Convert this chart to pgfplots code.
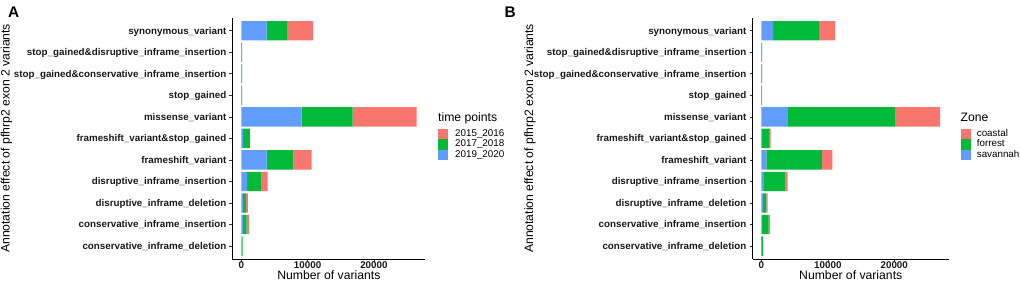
\documentclass[border=0pt]{standalone}
\usepackage{pgfplots}
\pgfplotsset{compat=1.18}
\usepackage{fontspec}
\setmainfont{Liberation Sans}
\definecolor{gred}{HTML}{F8766D}
\definecolor{ggreen}{HTML}{00BA38}
\definecolor{gblue}{HTML}{619CFF}
\pgfplotsset{
  sq legend/.style={legend image code/.code={\fill[##1] (0pt,-5.25pt) rectangle (10pt,5.25pt);}},
  panel/.style={
    scale only axis, height=241.2pt,
    xbar stacked, bar width=0.9,
    ymin=-0.6, ymax=10.6,
    ytick={0,...,10},
    yticklabels={conservative\_inframe\_deletion,conservative\_inframe\_insertion,disruptive\_inframe\_deletion,disruptive\_inframe\_insertion,frameshift\_variant,frameshift\_variant\&stop\_gained,missense\_variant,stop\_gained,stop\_gained\&conservative\_inframe\_insertion,stop\_gained\&disruptive\_inframe\_insertion,synonymous\_variant},
    xtick={0,10000,20000}, xticklabels={0,10000,20000},
    scaled x ticks=false,
    axis x line=bottom, axis y line=left,
    axis line style={-, black, line width=0.7pt},
    tick align=outside, major tick length=3pt,
    tick style={black!80, line width=0.6pt},
    yticklabel style={font=\fontsize{9.8}{10}\selectfont\bfseries, text=black!90, anchor=base east, inner sep=0pt, xshift=-3pt, yshift=-3.3pt},
    xticklabel style={font=\fontsize{9.8}{10}\selectfont\bfseries, text=black!90, anchor=base, inner sep=0pt, yshift=-6.8pt},
    label style={font=\fontsize{12.2}{13}\selectfont},
    xlabel={Number of variants},
    xlabel style={at={(axis description cs:0.5,-0.083)}, anchor=base, inner sep=0pt},
    ylabel={Annotation effect of pfhrp2 exon 2 variants},
    reverse legend, legend cell align=left,
  },
}
\begin{document}
\begin{tikzpicture}
\useasboundingbox (0,0) rectangle (1021pt,283pt);
% Panel A
\begin{axis}[panel, at={(232.5pt,24pt)}, anchor=south west, width=192.8pt,
  xmin=-1321, xmax=27750,
  ylabel style={at={(axis description cs:-1.1566,0.5)}, anchor=base, inner sep=0pt},
  legend style={at={(axis description cs:1.0659,0.540)}, anchor=north west, draw=none, fill=none, inner sep=0pt, row sep=0pt, column sep=7pt, font=\fontsize{9.8}{10.5}\selectfont, nodes={inner sep=0pt, text height=7.3pt, text depth=3.2pt}},
]
\addplot[fill=gblue, draw=none, sq legend] coordinates {
 (60,0) (300,1) (300,2) (900,3) (3820,4) (300,5) (9100,6) (20,7) (20,8) (30,9) (3820,10)};
\addlegendentry{2019\_2020}
\addplot[fill=ggreen, draw=none, sq legend] coordinates {
 (160,0) (500,1) (400,2) (2060,3) (4020,4) (1000,5) (7680,6) (100,7) (110,8) (110,9) (3160,10)};
\addlegendentry{2017\_2018}
\addplot[fill=gred, draw=none, sq legend] coordinates {
 (0,0) (400,1) (300,2) (1010,3) (2760,4) (30,5) (9650,6) (0,7) (0,8) (0,9) (3870,10)};
\addlegendentry{2015\_2016}
\end{axis}
\node[anchor=base west, inner sep=0pt, font=\fontsize{12.2}{13}\selectfont] at (438pt,161pt) {time points};
\node[anchor=base west, inner sep=0pt, font=\fontsize{15.4}{16}\selectfont\bfseries] at (8pt,265.5pt) {A};
% Panel B
\begin{axis}[panel, at={(752.5pt,24pt)}, anchor=south west, width=196.5pt,
  xmin=-1345, xmax=28245,
  ylabel style={at={(axis description cs:-1.117,0.5)}, anchor=base, inner sep=0pt},
  legend style={at={(axis description cs:1.0595,0.540)}, anchor=north west, draw=none, fill=none, inner sep=0pt, row sep=0pt, column sep=6pt, font=\fontsize{9.8}{10.5}\selectfont, nodes={inner sep=0pt, text height=7.3pt, text depth=3.2pt}},
]
\addplot[fill=gblue, draw=none, sq legend] coordinates {
 (0,0) (100,1) (250,2) (350,3) (750,4) (50,5) (3970,6) (0,7) (0,8) (0,9) (1760,10)};
\addlegendentry{savannah}
\addplot[fill=ggreen, draw=none, sq legend] coordinates {
 (250,0) (1000,1) (500,2) (3250,3) (8350,4) (1200,5) (16130,6) (60,7) (100,8) (120,9) (6930,10)};
\addlegendentry{forrest}
\addplot[fill=gred, draw=none, sq legend] coordinates {
 (0,0) (200,1) (200,2) (350,3) (1600,4) (150,5) (6800,6) (60,7) (0,8) (0,9) (2410,10)};
\addlegendentry{coastal}
\end{axis}
\node[anchor=base west, inner sep=0pt, font=\fontsize{12.2}{13}\selectfont] at (960.5pt,161pt) {Zone};
\node[anchor=base west, inner sep=0pt, font=\fontsize{15.4}{16}\selectfont\bfseries] at (504.5pt,265.5pt) {B};
\end{tikzpicture}
\end{document}
